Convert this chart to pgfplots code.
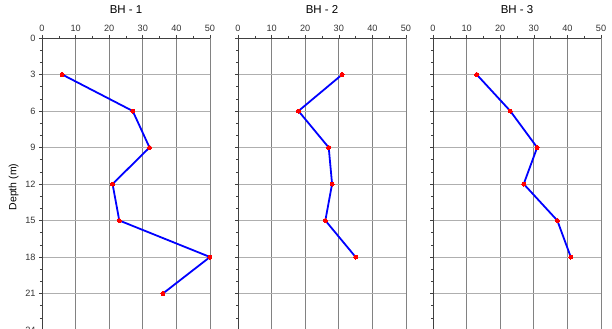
\documentclass[border=0pt]{standalone}
\usepackage{fontspec}
\setmainfont{Liberation Sans}
\usepackage{pgfplots}
\pgfplotsset{compat=1.18}
\definecolor{vgrid}{RGB}{130,130,130}
\definecolor{hgrid}{RGB}{175,175,175}
\pgfplotsset{
  bh/.style={
    scale only axis, width=168bp, height=292bp,
    xmin=0, xmax=50, ymin=0, ymax=24, y dir=reverse,
    axis x line=top, axis y line=left,
    axis line style={-, black!75, line width=0.8pt},
    xtick={0,10,...,50}, ytick={0,3,...,24},
    minor x tick num=1, minor y tick num=2,
    tick align=outside,
    major tick length=3bp, minor tick length=2bp,
    tick style={black!75, line width=0.6pt},
    xmajorgrids, ymajorgrids,
    x grid style={vgrid, line width=0.7pt},
    y grid style={hgrid, line width=0.7pt},
    tick label style={font=\fontsize{9.2}{11}\selectfont, black!80},
    /pgf/number format/assume math mode=true,
    title style={font=\fontsize{11.5}{13}\selectfont, at={(0.5,1)}, anchor=base, yshift=19bp},
    clip=false,
  },
  bhplot/.style={blue, line width=1.8pt, mark=*, mark size=2bp,
    mark options={red, fill=red, draw=red, line width=0pt}},
}
\begin{document}
\begin{tikzpicture}
\path[use as bounding box] (0,0) rectangle (612bp,329bp);
\clip (0,0) rectangle (612bp,329bp);
\begin{axis}[bh, at={(42bp,291bp)}, anchor=north west, title={BH - 1},
  ylabel={Depth (m)}, ylabel style={font=\fontsize{10.5}{12}\selectfont, xshift=-3bp}]
\addplot[bhplot] coordinates {(6,3) (27,6) (32,9) (21,12) (23,15) (50,18) (36,21)};
\end{axis}
\begin{axis}[bh, at={(238bp,291bp)}, anchor=north west, title={BH - 2}, yticklabels={}]
\addplot[bhplot] coordinates {(31,3) (18,6) (27,9) (28,12) (26,15) (35,18)};
\end{axis}
\begin{axis}[bh, at={(433bp,291bp)}, anchor=north west, title={BH - 3}, yticklabels={}]
\addplot[bhplot] coordinates {(13,3) (23,6) (31,9) (27,12) (37,15) (41,18)};
\end{axis}
\end{tikzpicture}
\end{document}
